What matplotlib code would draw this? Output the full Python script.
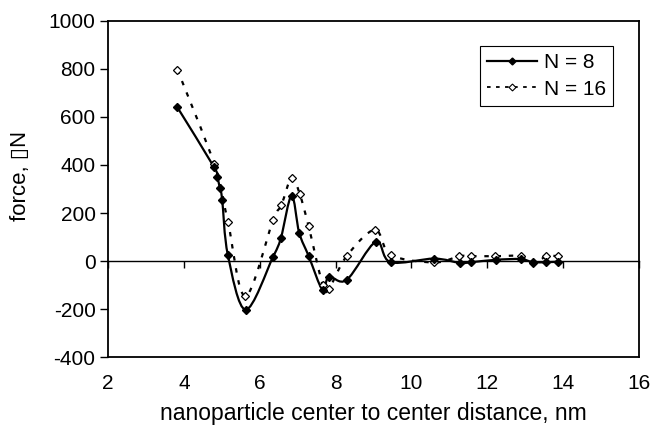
import numpy as np
import matplotlib
matplotlib.use("Agg")
import matplotlib.pyplot as plt
from matplotlib.path import Path
from matplotlib.patches import PathPatch
from matplotlib.lines import Line2D

plt.rcParams['font.family'] = ['Liberation Sans', 'DejaVu Sans']
plt.rcParams['axes.unicode_minus'] = False

# data
x_n8 = [3.83, 4.80, 4.88, 4.95, 5.01, 5.16, 5.63, 6.35, 6.56, 6.84, 7.04, 7.29,
        7.66, 7.82, 8.29, 9.06, 9.45, 10.60, 11.28, 11.58, 12.22, 12.88, 13.20,
        13.56, 13.86]
f_n8 = [640, 390, 351, 303, 256, 25, -203, 17, 97, 272, 118, 21,
        -122, -65, -79, 80, -5, 10, -8, -5, 5, 8, -5, -5, -3]

x_n16 = [3.83, 4.80, 5.16, 5.62, 6.35, 6.57, 6.84, 7.05, 7.29, 7.66, 7.82, 8.29,
         9.04, 9.46, 10.60, 11.26, 11.57, 12.21, 12.88, 13.21, 13.56, 13.86]
f_n16 = [797, 404, 164, -147, 169, 233, 347, 281, 144, -100, -117, 20,
         130, 25, -6, 20, 20, 20, 20, -10, 20, 20]

labels = ['N = 8', 'N = 16']


def smooth_path(xs, ys):
    # Excel-like smoothed line: cubic Bezier segments through the points
    p = np.column_stack([xs, ys]).astype(float)
    verts = [p[0]]
    codes = [Path.MOVETO]
    n = len(p)
    for i in range(n - 1):
        p0 = p[i - 1] if i > 0 else p[i]
        p1, p2 = p[i], p[i + 1]
        p3 = p[i + 2] if i + 2 < n else p[i + 1]
        c1 = p1 + (p2 - p0) / 6.0
        c2 = p2 - (p3 - p1) / 6.0
        verts += [c1, c2, p2]
        codes += [Path.CURVE4] * 3
    return Path(verts, codes)


fig = plt.figure(figsize=(6.53, 4.32), dpi=100)
ax = fig.add_axes([0.1654, 0.1736, 0.8132, 0.7778])

ax.add_patch(PathPatch(smooth_path(x_n16, f_n16), fill=False, color='black',
                       lw=1.6, linestyle=(0, (2, 3.5))))
ax.add_patch(PathPatch(smooth_path(x_n8, f_n8), fill=False, color='black', lw=1.6))

ax.plot(x_n16, f_n16, linestyle='none', marker='D', ms=4.3, mfc='white',
        mec='black', mew=0.9, zorder=4)
ax.plot(x_n8, f_n8, linestyle='none', marker='D', ms=3.8, mfc='black',
        mec='black', zorder=5)

ax.set_xlim(2, 16)
ax.set_ylim(-400, 1000)
ax.set_xticks(np.arange(2, 17, 2))
ax.set_yticks(np.arange(-400, 1001, 200))

for s in ax.spines.values():
    s.set_linewidth(1.3)
ax.tick_params(axis='y', direction='out', length=6, width=1, labelsize=15, pad=3)
ax.tick_params(axis='x', length=0, labelsize=15, pad=12)

# horizontal zero axis carrying the x tick marks
zero = ax.secondary_xaxis(400 / 1400)
zero.set_xticks(np.arange(2, 17, 2))
zero.tick_params(axis='x', direction='out', length=5, width=1, labelbottom=False,
                 labeltop=False)
zero.spines['bottom'].set_linewidth(1.0)

ax.set_xlabel('nanoparticle center to center distance, nm', fontsize=16.5, labelpad=7)
ax.set_ylabel('force, \u25afN', fontsize=16)
ax.yaxis.set_label_coords(-0.145, 0.54)

handles = [
    Line2D([], [], color='black', lw=1.6, marker='D', ms=3.5, mfc='black'),
    Line2D([], [], color='black', lw=1.3, linestyle=(0, (2, 3)), marker='D', ms=3.5,
           mfc='white', mew=0.8),
]
leg = ax.legend(handles, labels, loc='upper right', bbox_to_anchor=(0.951, 0.925),
                fontsize=15, frameon=True, fancybox=False, edgecolor='black',
                framealpha=1, handlelength=2.4, handletextpad=0.3, borderpad=0.35,
                labelspacing=0.35, borderaxespad=0)
leg.get_frame().set_linewidth(0.8)

fig.savefig('out.png', dpi=100)
